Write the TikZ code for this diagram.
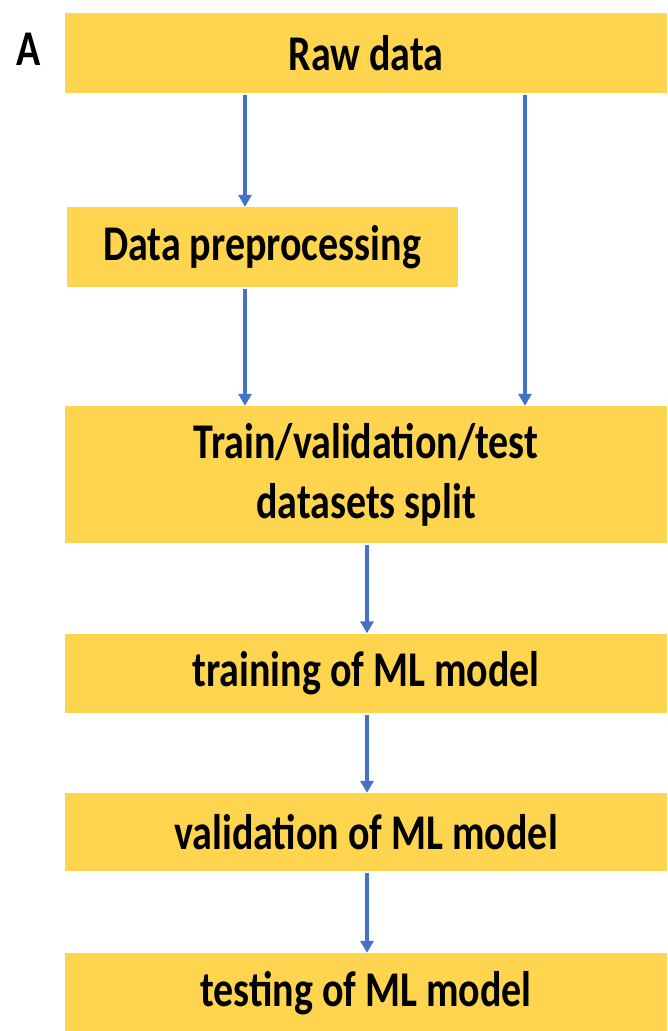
\documentclass[tikz,border=0pt]{standalone}
\usepackage{fontspec}
\setmainfont{Carlito}[FakeStretch=0.8]
\usetikzlibrary{arrows.meta}
\definecolor{boxyellow}{RGB}{255,213,80}
\definecolor{arrowblue}{RGB}{68,114,196}

\begin{document}
\begin{tikzpicture}[x=1pt, y=-1pt]
	\tikzstyle{every node} = [font=\fontsize{50}{60}\selectfont\bfseries]
	\tikzstyle{stepbox} = [rectangle, fill=boxyellow, inner sep=0pt, align=center]
	\tikzstyle{flow} = [arrowblue, line width=3.2pt, shorten <=2pt, -{Triangle[width=13pt,length=12pt]}]
	\useasboundingbox (0,0) rectangle (667,1031);
	\coordinate (lcol) at (245,0);
	\coordinate (mcol) at (367,0);
	\coordinate (rcol) at (525,0);
	\node (A)     at (29,49) {A};
	\node[stepbox, minimum width=602, minimum height=80] (raw)   at (366,53)    {Raw data};
	\node[stepbox, minimum width=391, minimum height=80] (prep)  at (262,247)   {Data preprocessing};
	\node[stepbox, minimum width=602, minimum height=137] (split) at (366,474.5) {Train/validation/test\\datasets split};
	\node[stepbox, minimum width=602, minimum height=79] (train) at (366,673)   {training of ML model};
	\node[stepbox, minimum width=602, minimum height=78] (valid) at (366,832)   {validation of ML model};
	\node[stepbox, minimum width=602, minimum height=80] (test)  at (366,993)   {testing of ML model};
	\draw [flow] (raw.south -| lcol)   -- (prep.north -| lcol);
	\draw [flow] (prep.south -| lcol)  -- (split.north -| lcol);
	\draw [flow] (raw.south -| rcol)   -- (split.north -| rcol);
	\draw [flow] (split.south -| mcol) -- (train.north -| mcol);
	\draw [flow] (train.south -| mcol) -- (valid.north -| mcol);
	\draw [flow] (valid.south -| mcol) -- (test.north -| mcol);
\end{tikzpicture}
\end{document}
